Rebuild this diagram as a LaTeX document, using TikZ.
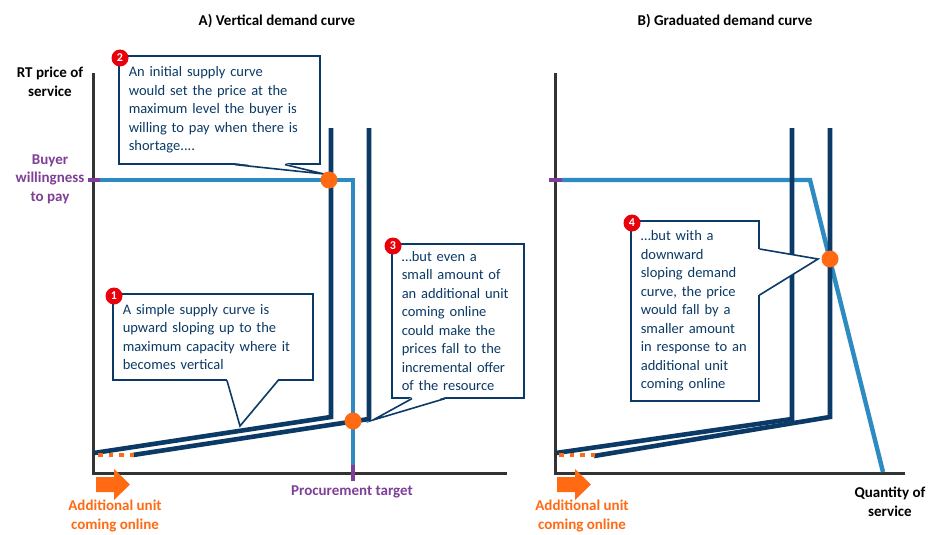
\documentclass[tikz,border=0pt]{standalone}
\usepackage{fontspec}
\setmainfont{Carlito}
\usepackage{xcolor}
\usetikzlibrary{positioning, calc}

\definecolor{navy}{HTML}{0B3A66}
\definecolor{demandblue}{HTML}{2E8BC2}
\definecolor{wtppurple}{HTML}{7F3F98}
\definecolor{unitorange}{HTML}{FF6A13}
\definecolor{badgered}{HTML}{E8000B}
\definecolor{axisgray}{HTML}{333333}

\begin{document}
\begin{tikzpicture}[x=1pt, y=-1pt,
    axis/.style={draw=axisgray, line width=3pt},
    supply/.style={draw=navy, line width=4.6pt, line join=miter},
    demand/.style={draw=demandblue, line width=4.4pt, line join=miter},
    wtptick/.style={draw=wtppurple, line width=4.4pt},
    newunit/.style={draw=unitorange, line width=4.6pt, dash pattern=on 4.5pt off 6pt},
    bubble/.style={draw=navy, line width=1.6pt, fill=white, text=navy, anchor=north west,
        align=left, inner xsep=10pt, inner ysep=0pt, font=\fontsize{14.5}{18.5}\selectfont},
    pointer/.style={draw=navy, line width=1.6pt, line join=miter},
    badge/.style={circle, fill=badgered, text=white, inner sep=0pt, minimum size=17pt,
        font=\bfseries\fontsize{12}{12}\selectfont},
    hit/.style={circle, fill=unitorange, inner sep=0pt, minimum size=17pt},
    axislabel/.style={align=center, font=\bfseries\fontsize{15}{18.5}\selectfont},
    paneltitle/.style={font=\bfseries\fontsize{15}{16}\selectfont}]

\fill[white] (0,0) rectangle (930,535);
\useasboundingbox (0,0) rectangle (930,535);

% panel titles
\node[paneltitle] (titleA) at (277,21) {A) Vertical demand curve};
\node[paneltitle] (titleB) at (725,21) {B) Graduated demand curve};

% axes
\draw[axis] (93,73) -- (93,473) -- (507,473);
\draw[axis] (555,73) -- (555,473) -- (905,473);

% demand curves
\draw[demand] (100,180) -- (353,180) -- (353,468);
\draw[demand] (562,180) -- (810,180) -- (883,472);
\draw[wtptick] (88,180) -- (100,180);
\draw[wtptick] (549,180) -- (562,180);
\draw[wtptick] (353,465) -- (353,481);

% supply curves
\draw[supply] (94,453) -- (331,417) -- (331,128);
\draw[supply] (133,455) -- (369,419) -- (369,128);
\draw[supply] (556,453) -- (792,419) -- (792,128);
\draw[supply] (594,456) -- (830,417) -- (830,128);
\draw[newunit] (98,455) -- (135,455);
\draw[newunit] (559,455) -- (596,455);

% additional unit arrows
\foreach \dx in {0,461}
    \fill[unitorange] (96+\dx,477) -- (114+\dx,477) -- (114+\dx,469) -- (130+\dx,484.5)
        -- (114+\dx,500) -- (114+\dx,492) -- (96+\dx,492) -- cycle;

% axis labels
\node[axislabel] (ylab) at (50,82) {RT price of\\service};
\node[axislabel, text=wtppurple] (wtp) at (50,179) {Buyer\\willingness\\to pay};
\node[axislabel, text=wtppurple] (target) at (352,492) {Procurement target};
\node[axislabel] (xlab) at (890,502) {Quantity of\\service};
\node[axislabel, text=unitorange] (unitA) at (115,516) {Additional unit\\coming online};
\node[axislabel, text=unitorange] (unitB) at (582,516) {Additional unit\\coming online};

% callouts
\node[bubble, minimum width=201pt, minimum height=108pt, text width=181pt] (c2) at (118,55)
    {An initial supply curve\\would set the price at the\\maximum level the buyer is\\willing to pay when there is\\shortage....};
\coordinate (tip2) at (324,174);
\fill[white] ($(c2.south west)+(117,-1.5)$) -- (tip2) -- ($(c2.south west)+(167,-1.5)$) -- cycle;
\draw[pointer] ($(c2.south west)+(117,0)$) -- (tip2) -- ($(c2.south west)+(167,0)$);

\node[bubble, minimum width=200pt, minimum height=86pt, text width=180pt] (c1) at (112,293)
    {A simple supply curve is\\upward sloping up to the\\maximum capacity where it\\becomes vertical};
\coordinate (tip1) at (240,426);
\fill[white] ($(c1.south west)+(115,-1.5)$) -- (tip1) -- ($(c1.south west)+(166,-1.5)$) -- cycle;
\draw[pointer] ($(c1.south west)+(115,0)$) -- (tip1) -- ($(c1.south west)+(166,0)$);

\node[bubble, minimum width=132pt, minimum height=154pt, text width=112pt] (c3) at (391,243)
    {…but even a\\small amount of\\an additional unit\\coming online\\could make the\\prices fall to the\\incremental offer\\of the resource};
\coordinate (tip3) at (373,420);
\fill[white] ($(c3.south west)+(21,-1.5)$) -- (tip3) -- ($(c3.south west)+(54,-1.5)$) -- cycle;
\draw[pointer] ($(c3.south west)+(21,0)$) -- (tip3) -- ($(c3.south west)+(54,0)$);

\node[bubble, minimum width=128pt, minimum height=180pt, text width=108pt] (c4) at (630,220)
    {…but with a\\downward\\sloping demand\\curve, the price\\would fall by a\\smaller amount\\in response to an\\additional unit\\coming online};
\coordinate (tip4) at (818,259);
\fill[white] ($(c4.north east)+(-1.5,29)$) -- (tip4) -- ($(c4.north east)+(-1.5,75)$) -- cycle;
\draw[pointer] ($(c4.north east)+(0,29)$) -- (tip4) -- ($(c4.north east)+(0,75)$);

% numbered badges
\foreach \n in {1,2,3,4}
    \node[badge] (b\n) at ($(c\n.north west)+(2,3)$) {\n};

% intersections
\node[hit] (hitA1) at (329,180) {};
\node[hit] (hitA2) at (353,421) {};
\node[hit] (hitB) at (830,259) {};

\end{tikzpicture}
\end{document}
